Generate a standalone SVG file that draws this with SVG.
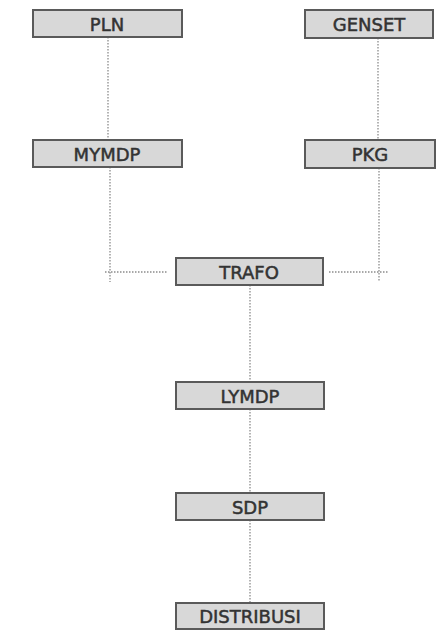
<svg xmlns="http://www.w3.org/2000/svg" width="440" height="632" viewBox="0 0 440 632">
<style>
.box{fill:#d8d8d8;stroke:#5a5a5a;stroke-width:2}
.lbl{font-family:"DejaVu Sans",sans-serif;font-size:18px;fill:#333;stroke:#333;stroke-width:0.5;text-anchor:middle;dominant-baseline:central}
.con{stroke:#8c8c8c;stroke-width:1.3;stroke-dasharray:1.5 1.5;fill:none}
</style>
<rect width="440" height="632" fill="#fff"/>
<g id="connectors">
<path class="con" d="M108 37V140"/>
<path class="con" d="M110 167V282"/>
<path class="con" d="M105 272H168"/>
<path class="con" d="M378 38V140"/>
<path class="con" d="M379 168V282"/>
<path class="con" d="M329 272H388"/>
<path class="con" d="M250 285V382"/>
<path class="con" d="M250 409V493"/>
<path class="con" d="M250 520V603"/>
</g>
<g id="PLN"><rect class="box" x="33" y="10" width="149" height="27"/><text class="lbl" x="107" y="24">PLN</text></g>
<g id="GENSET"><rect class="box" x="305" y="10" width="128" height="28"/><text class="lbl" x="369" y="24">GENSET</text></g>
<g id="MYMDP"><rect class="box" x="33" y="140" width="149" height="27"/><text class="lbl" x="107" y="154">MYMDP</text></g>
<g id="PKG"><rect class="box" x="305" y="140" width="130" height="28"/><text class="lbl" x="370" y="154">PKG</text></g>
<g id="TRAFO"><rect class="box" x="176" y="258" width="147" height="27"/><text class="lbl" x="249" y="272">TRAFO</text></g>
<g id="LYMDP"><rect class="box" x="176" y="382" width="148" height="27"/><text class="lbl" x="250" y="396">LYMDP</text></g>
<g id="SDP"><rect class="box" x="176" y="493" width="148" height="27"/><text class="lbl" x="250" y="507">SDP</text></g>
<g id="DISTRIBUSI"><rect class="box" x="176" y="603" width="148" height="26"/><text class="lbl" x="250" y="616">DISTRIBUSI</text></g>
</svg>
